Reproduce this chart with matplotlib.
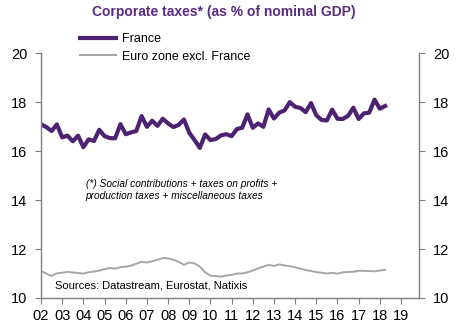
import numpy as np
import matplotlib
matplotlib.use("Agg")
import matplotlib.pyplot as plt

plt.rcParams['font.family'] = ['Liberation Sans', 'DejaVu Sans']

# quarterly data, 2002Q1 .. 2018Q2
france = [17.09, 16.98, 16.82, 17.09, 16.56, 16.63, 16.40, 16.63, 16.16, 16.48,
          16.41, 16.87, 16.61, 16.53, 16.52, 17.10, 16.69, 16.76, 16.82, 17.43,
          16.99, 17.24, 17.03, 17.32, 17.13, 16.98, 17.07, 17.29, 16.75, 16.45,
          16.13, 16.68, 16.45, 16.49, 16.64, 16.69, 16.61, 16.90, 16.95, 17.50,
          16.95, 17.13, 16.99, 17.70, 17.33, 17.57, 17.66, 18.00, 17.81, 17.76,
          17.59, 17.96, 17.46, 17.27, 17.25, 17.69, 17.32, 17.31, 17.44, 17.77,
          17.31, 17.54, 17.57, 18.10, 17.73, 17.84]
euro_ex_fr = [11.10, 11.00, 10.90, 11.01, 11.03, 11.07, 11.04, 11.02, 11.00, 11.05,
              11.08, 11.12, 11.18, 11.22, 11.20, 11.26, 11.28, 11.32, 11.40, 11.48,
              11.45, 11.50, 11.56, 11.63, 11.62, 11.56, 11.48, 11.35, 11.45, 11.41,
              11.28, 11.05, 10.91, 10.90, 10.87, 10.92, 10.94, 11.00, 11.00, 11.05,
              11.12, 11.21, 11.28, 11.35, 11.31, 11.37, 11.33, 11.30, 11.25, 11.20,
              11.14, 11.10, 11.06, 11.03, 11.00, 11.03, 10.99, 11.05, 11.06, 11.07,
              11.11, 11.11, 11.10, 11.09, 11.12, 11.15]
years = list(range(2002, 2020))
year_labels = ["%02d" % (y % 100) for y in years]
y_ticks = [10, 12, 14, 16, 18, 20]

t = 2002 + np.arange(len(france)) / 4.0

purple = "#4e2272"
grey = "#a6a6a6"
spine_col = "#808080"

fig = plt.figure(figsize=(4.64, 3.28), dpi=100)
ax = fig.add_axes([0.0884, 0.0915, 0.8146, 0.7465])

ax.plot(t, euro_ex_fr, color=grey, lw=1.4, label="Euro zone excl. France")
ax.plot(t, france, color=purple, lw=3.0, label="France")

ax.set_xlim(2002, 2019.85)
ax.set_ylim(10, 20)
ax.set_xticks(years)
ax.set_xticklabels(year_labels, fontsize=10.5)
ax.set_yticks(y_ticks)
ax.set_yticklabels([str(v) for v in y_ticks], fontsize=10.5)
ax.tick_params(axis='y', which='both', left=True, right=True, labelleft=True,
               labelright=True, direction='out', length=4, color=spine_col, pad=6)
ax.tick_params(axis='x', direction='out', length=4, color=spine_col, pad=4)

ax.spines['top'].set_visible(False)
for s in ['left', 'right', 'bottom']:
    ax.spines[s].set_color(spine_col)
    ax.spines[s].set_linewidth(1.0)

# legend, France first
h, l = ax.get_legend_handles_labels()
leg = fig.legend([h[1], h[0]], [l[1], l[0]], loc='upper left',
                 bbox_to_anchor=(0.172, 0.898), frameon=False, fontsize=9,
                 handlelength=2.9, handletextpad=0.5, labelspacing=0.42,
                 borderpad=0, borderaxespad=0)

fig.text(0.483, 0.963, "Corporate taxes* (as % of nominal GDP)", ha='center',
         va='center', fontsize=10, fontweight='bold', color="#5a2d82")

ax.text(0.118, 0.44, "(*) Social contributions + taxes on profits +\nproduction taxes + miscellaneous taxes",
        transform=ax.transAxes, fontsize=7.3, style='italic', va='center',
        linespacing=1.25)
ax.text(0.037, 0.032, "Sources: Datastream, Eurostat, Natixis",
        transform=ax.transAxes, fontsize=8, va='bottom')

fig.savefig("out.png", dpi=100)
